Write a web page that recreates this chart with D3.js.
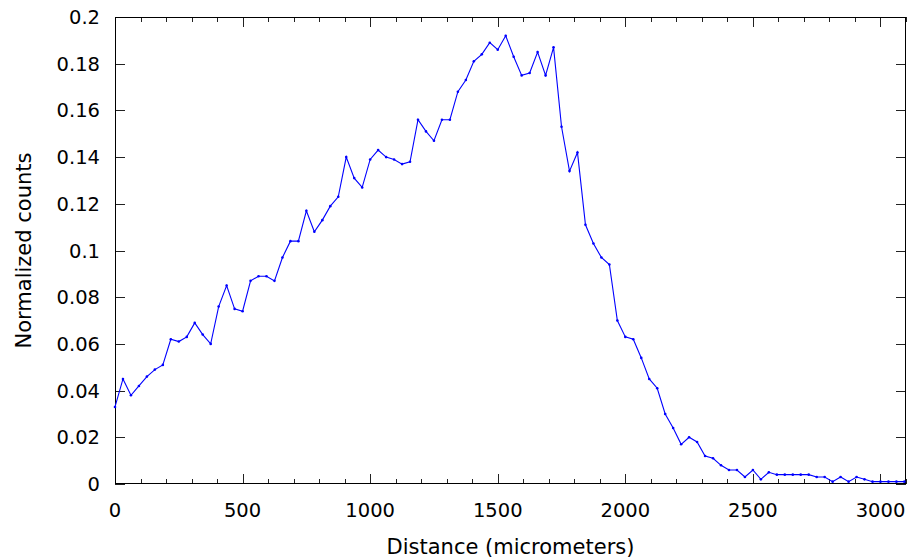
<!DOCTYPE html>
<html>
<head>
<meta charset="utf-8">
<script src="https://cdn.jsdelivr.net/npm/d3@7"></script>
<style>
  body { margin: 0; background: #fff; }
  text { font-family: "DejaVu Sans", sans-serif; }
</style>
</head>
<body>
<div id="chart"></div>
<script>
// bin spacing along the distance axis (micrometers)
let binWidth = 31.25

let counts = [
  0.033, 0.045, 0.038, 0.042, 0.046, 0.049, 0.051, 0.062, 0.061, 0.063,
  0.069, 0.064, 0.060, 0.076, 0.085, 0.075, 0.074, 0.087, 0.089, 0.089,
  0.087, 0.097, 0.104, 0.104, 0.117, 0.108, 0.113, 0.119, 0.123, 0.140,
  0.131, 0.127, 0.139, 0.143, 0.140, 0.139, 0.137, 0.138, 0.156, 0.151,
  0.147, 0.156, 0.156, 0.168, 0.173, 0.181, 0.184, 0.189, 0.186, 0.192,
  0.183, 0.175, 0.176, 0.185, 0.175, 0.187, 0.153, 0.134, 0.142, 0.111,
  0.103, 0.097, 0.094, 0.070, 0.063, 0.062, 0.054, 0.045, 0.041, 0.030,
  0.024, 0.017, 0.020, 0.018, 0.012, 0.011, 0.008, 0.006, 0.006, 0.003,
  0.006, 0.002, 0.005, 0.004, 0.004, 0.004, 0.004, 0.004, 0.003, 0.003,
  0.001, 0.003, 0.001, 0.003, 0.002, 0.001, 0.001, 0.001, 0.001, 0.001
]

let xTicks = [0, 500, 1000, 1500, 2000, 2500, 3000]
let xMinorTicks = d3.range(0, 3101, 100)
let yTicks = [0, 0.02, 0.04, 0.06, 0.08, 0.1, 0.12, 0.14, 0.16, 0.18, 0.2]

let datapoints = counts.map((d, i) => ({ distance: i * binWidth, value: d }))

let margin = { top: 17, left: 115, right: 3, bottom: 74 }
let width = 909 - margin.left - margin.right
let height = 558 - margin.top - margin.bottom

let svg = d3.select('#chart')
  .append('svg')
  .attr('width', 909)
  .attr('height', 558)

let holder = svg.append('g')
  .attr('transform', `translate(${margin.left},${margin.top})`)

let xPositionScale = d3.scaleLinear().domain([0, 3100]).range([0, width])
let yPositionScale = d3.scaleLinear().domain([0, 0.2]).range([height, 0])

let line = d3.line()
  .x(d => xPositionScale(d.distance))
  .y(d => yPositionScale(d.value))

// ticks, drawn inward on all four sides
let major = 10
let minor = 5

holder.selectAll('.x-minor')
  .data(xMinorTicks)
  .enter().append('g')
  .each(function(d) {
    let g = d3.select(this)
    let x = Math.round(xPositionScale(d)) + 0.5
    let len = xTicks.includes(d) ? major : minor
    g.append('line').attr('x1', x).attr('x2', x)
      .attr('y1', height).attr('y2', height - len)
    g.append('line').attr('x1', x).attr('x2', x)
      .attr('y1', 0).attr('y2', len)
  })
  .attr('stroke', '#222')

holder.selectAll('.y-tick')
  .data(yTicks)
  .enter().append('g')
  .each(function(d) {
    let g = d3.select(this)
    let y = Math.round(yPositionScale(d)) + 0.5
    g.append('line').attr('x1', 0).attr('x2', major)
      .attr('y1', y).attr('y2', y)
    g.append('line').attr('x1', width).attr('x2', width - major)
      .attr('y1', y).attr('y2', y)
  })
  .attr('stroke', '#222')

holder.selectAll('.x-label')
  .data(xTicks)
  .enter().append('text')
  .attr('x', d => xPositionScale(d))
  .attr('y', height + 33)
  .attr('text-anchor', 'middle')
  .attr('font-size', 19.5)
  .text(d => d)

holder.selectAll('.y-label')
  .data(yTicks)
  .enter().append('text')
  .attr('x', -15)
  .attr('y', d => yPositionScale(d))
  .attr('dy', '0.36em')
  .attr('text-anchor', 'end')
  .attr('font-size', 19.5)
  .text(d => d)

holder.append('rect')
  .attr('x', 0.5)
  .attr('y', 0.5)
  .attr('width', width - 1)
  .attr('height', height - 1)
  .attr('fill', 'none')
  .attr('stroke', 'black')

holder.append('path')
  .datum(datapoints)
  .attr('d', line)
  .attr('fill', 'none')
  .attr('stroke', '#0000ff')
  .attr('stroke-width', 1.1)

holder.selectAll('.point')
  .data(datapoints)
  .enter().append('circle')
  .attr('cx', d => xPositionScale(d.distance))
  .attr('cy', d => yPositionScale(d.value))
  .attr('r', 1.3)
  .attr('fill', '#0000ff')

holder.append('text')
  .attr('x', width / 2)
  .attr('y', height + 70)
  .attr('text-anchor', 'middle')
  .attr('font-size', 21)
  .text('Distance (micrometers)')

holder.append('text')
  .attr('transform', `translate(${-84},${height / 2}) rotate(-90)`)
  .attr('text-anchor', 'middle')
  .attr('font-size', 21)
  .text('Normalized counts')
</script>
</body>
</html>
